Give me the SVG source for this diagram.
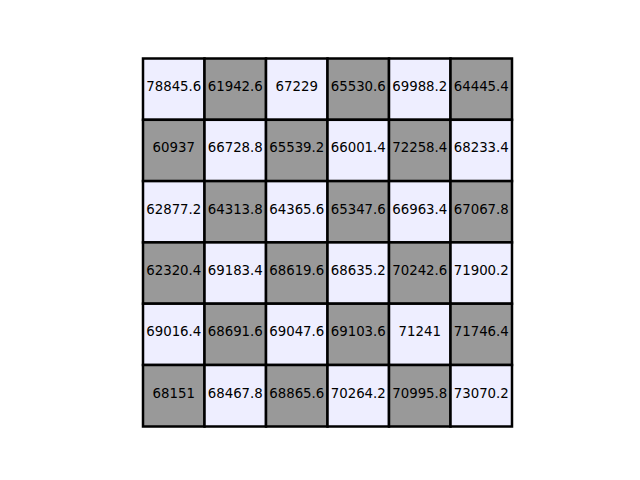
<svg xmlns="http://www.w3.org/2000/svg" width="640" height="480" viewBox="0 0 640 480">
<style>
.l{fill:#eeeeff;stroke:#000;stroke-width:2.5}
.g{fill:#999999;stroke:#000;stroke-width:2.5}
text{font-family:"DejaVu Sans",sans-serif;font-size:13.33px;text-anchor:middle;fill:#000}
</style>
<rect width="640" height="480" fill="#fff"/>
<g id="r0">
<rect class="l" x="143" y="58.5" width="61.5" height="61.3"/><text x="173.75" y="91">78845.6</text>
<rect class="g" x="204.5" y="58.5" width="61.5" height="61.3"/><text x="235.25" y="91">61942.6</text>
<rect class="l" x="266" y="58.5" width="61.5" height="61.3"/><text x="296.75" y="91">67229</text>
<rect class="g" x="327.5" y="58.5" width="61.5" height="61.3"/><text x="358.25" y="91">65530.6</text>
<rect class="l" x="389" y="58.5" width="61.5" height="61.3"/><text x="419.75" y="91">69988.2</text>
<rect class="g" x="450.5" y="58.5" width="61.5" height="61.3"/><text x="481.25" y="91">64445.4</text>
</g>
<g id="r1">
<rect class="g" x="143" y="119.8" width="61.5" height="61.3"/><text x="173.75" y="152.3">60937</text>
<rect class="l" x="204.5" y="119.8" width="61.5" height="61.3"/><text x="235.25" y="152.3">66728.8</text>
<rect class="g" x="266" y="119.8" width="61.5" height="61.3"/><text x="296.75" y="152.3">65539.2</text>
<rect class="l" x="327.5" y="119.8" width="61.5" height="61.3"/><text x="358.25" y="152.3">66001.4</text>
<rect class="g" x="389" y="119.8" width="61.5" height="61.3"/><text x="419.75" y="152.3">72258.4</text>
<rect class="l" x="450.5" y="119.8" width="61.5" height="61.3"/><text x="481.25" y="152.3">68233.4</text>
</g>
<g id="r2">
<rect class="l" x="143" y="181.1" width="61.5" height="61.3"/><text x="173.75" y="213.6">62877.2</text>
<rect class="g" x="204.5" y="181.1" width="61.5" height="61.3"/><text x="235.25" y="213.6">64313.8</text>
<rect class="l" x="266" y="181.1" width="61.5" height="61.3"/><text x="296.75" y="213.6">64365.6</text>
<rect class="g" x="327.5" y="181.1" width="61.5" height="61.3"/><text x="358.25" y="213.6">65347.6</text>
<rect class="l" x="389" y="181.1" width="61.5" height="61.3"/><text x="419.75" y="213.6">66963.4</text>
<rect class="g" x="450.5" y="181.1" width="61.5" height="61.3"/><text x="481.25" y="213.6">67067.8</text>
</g>
<g id="r3">
<rect class="g" x="143" y="242.4" width="61.5" height="61.3"/><text x="173.75" y="274.9">62320.4</text>
<rect class="l" x="204.5" y="242.4" width="61.5" height="61.3"/><text x="235.25" y="274.9">69183.4</text>
<rect class="g" x="266" y="242.4" width="61.5" height="61.3"/><text x="296.75" y="274.9">68619.6</text>
<rect class="l" x="327.5" y="242.4" width="61.5" height="61.3"/><text x="358.25" y="274.9">68635.2</text>
<rect class="g" x="389" y="242.4" width="61.5" height="61.3"/><text x="419.75" y="274.9">70242.6</text>
<rect class="l" x="450.5" y="242.4" width="61.5" height="61.3"/><text x="481.25" y="274.9">71900.2</text>
</g>
<g id="r4">
<rect class="l" x="143" y="303.7" width="61.5" height="61.3"/><text x="173.75" y="336.2">69016.4</text>
<rect class="g" x="204.5" y="303.7" width="61.5" height="61.3"/><text x="235.25" y="336.2">68691.6</text>
<rect class="l" x="266" y="303.7" width="61.5" height="61.3"/><text x="296.75" y="336.2">69047.6</text>
<rect class="g" x="327.5" y="303.7" width="61.5" height="61.3"/><text x="358.25" y="336.2">69103.6</text>
<rect class="l" x="389" y="303.7" width="61.5" height="61.3"/><text x="419.75" y="336.2">71241</text>
<rect class="g" x="450.5" y="303.7" width="61.5" height="61.3"/><text x="481.25" y="336.2">71746.4</text>
</g>
<g id="r5">
<rect class="g" x="143" y="365" width="61.5" height="61.5"/><text x="173.75" y="397.5">68151</text>
<rect class="l" x="204.5" y="365" width="61.5" height="61.5"/><text x="235.25" y="397.5">68467.8</text>
<rect class="g" x="266" y="365" width="61.5" height="61.5"/><text x="296.75" y="397.5">68865.6</text>
<rect class="l" x="327.5" y="365" width="61.5" height="61.5"/><text x="358.25" y="397.5">70264.2</text>
<rect class="g" x="389" y="365" width="61.5" height="61.5"/><text x="419.75" y="397.5">70995.8</text>
<rect class="l" x="450.5" y="365" width="61.5" height="61.5"/><text x="481.25" y="397.5">73070.2</text>
</g>
</svg>
